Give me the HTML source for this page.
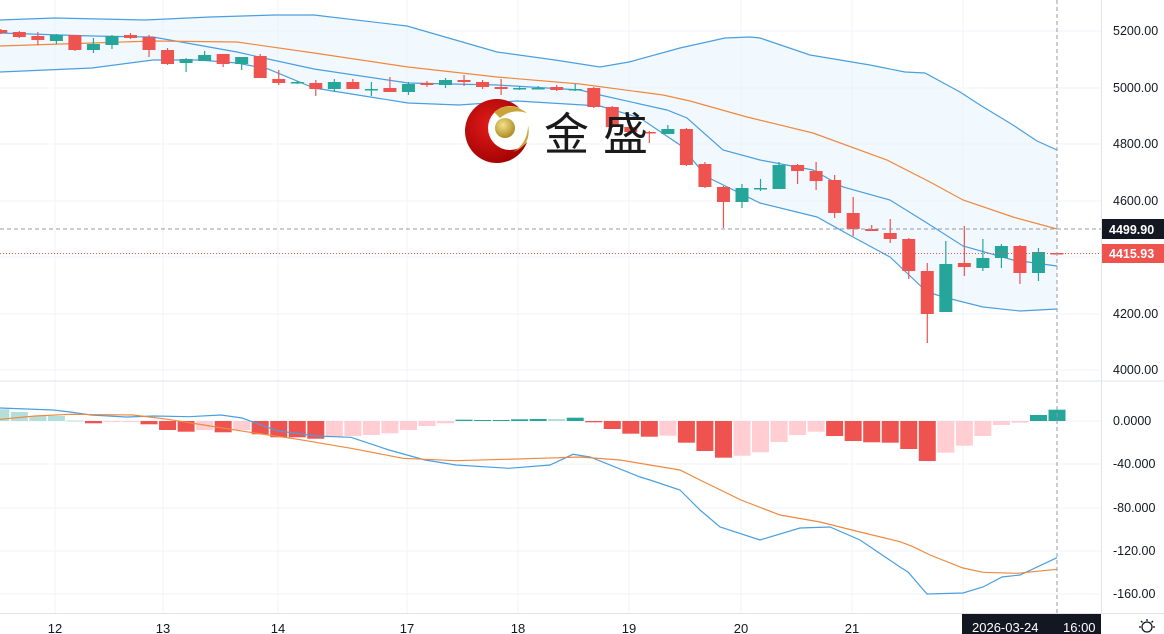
<!DOCTYPE html>
<html><head><meta charset="utf-8"><style>
html,body{margin:0;padding:0;background:#fff;width:1164px;height:634px;overflow:hidden}
svg{display:block}
text{font-family:"Liberation Sans","Noto Sans CJK SC",sans-serif}
</style></head><body>
<svg id="s" width="1164" height="634" xmlns="http://www.w3.org/2000/svg">
<g stroke="#f0f3fa" stroke-width="1">
<line x1="55" y1="0" x2="55" y2="613"/><line x1="163" y1="0" x2="163" y2="613"/><line x1="278" y1="0" x2="278" y2="613"/><line x1="407" y1="0" x2="407" y2="613"/><line x1="518" y1="0" x2="518" y2="613"/><line x1="629" y1="0" x2="629" y2="613"/><line x1="741" y1="0" x2="741" y2="613"/><line x1="852" y1="0" x2="852" y2="613"/><line x1="963" y1="0" x2="963" y2="613"/>
<line x1="0" y1="31" x2="1101" y2="31"/><line x1="0" y1="88" x2="1101" y2="88"/><line x1="0" y1="144" x2="1101" y2="144"/><line x1="0" y1="201" x2="1101" y2="201"/><line x1="0" y1="257" x2="1101" y2="257"/><line x1="0" y1="314" x2="1101" y2="314"/><line x1="0" y1="370" x2="1101" y2="370"/>
<line x1="0" y1="464" x2="1101" y2="464"/><line x1="0" y1="508" x2="1101" y2="508"/><line x1="0" y1="551" x2="1101" y2="551"/><line x1="0" y1="594" x2="1101" y2="594"/>
</g>
<path d="M0,20 L55,18 L145,20 L210,17 L275,15 L314,15 L407,26 L497,52 L555,60 L600,67 L629,62 L680,48 L725,38 L750,37 L760,38 L810,55 L870,65 L905,72 L925,73 L960,92 L980,105 L1013,125 L1037,141 L1057,150 L1057,309 L1020,311 L983,307 L947,298 L927,292 L890,257 L853,237 L817,217 L760,203 L707,177 L680,145 L640,118 L600,106 L517,101 L459,105 L408,103 L314,88 L268,69 L237,63 L199,60 L153,60 L92,68 L0,72 Z" fill="#e3f2fd" fill-opacity="0.45"/>
<g fill="none" stroke-width="1.2">
<path stroke="#4a9fe0" d="M0,20 L55,18 L145,20 L210,17 L275,15 L314,15 L407,26 L497,52 L555,60 L600,67 L629,62 L680,48 L725,38 L750,37 L760,38 L810,55 L870,65 L905,72 L925,73 L960,92 L980,105 L1013,125 L1037,141 L1057,150"/>
<path stroke="#4a9fe0" d="M0,72 L92,68 L153,60 L199,60 L237,63 L268,69 L314,88 L408,103 L459,105 L517,101 L600,106 L640,118 L680,145 L707,177 L760,203 L817,217 L853,237 L890,257 L927,292 L947,298 L983,307 L1020,311 L1057,309"/>
<path stroke="#4a9fe0" d="M0,33 L92,36 L153,37 L237,52 L268,59 L314,69 L408,83 L497,85 L580,90 L600,95 L667,110 L687,118 L723,150 L760,160 L813,170 L843,187 L890,200 L927,223 L963,246 L1013,260 L1057,266"/>
<path stroke="#f0883e" d="M0,46 L92,43 L153,41 L237,42 L314,53 L408,67 L497,77 L580,84 L663,95 L690,101 L747,117 L813,133 L887,160 L930,182 L963,200 L1013,217 L1057,229"/>
</g>
<g id="c"></g>
<line x1="0" y1="229" x2="1101" y2="229" stroke="#9598a1" stroke-dasharray="4,3"/>
<line x1="0" y1="253.5" x2="1101" y2="253.5" stroke="#ef5350" stroke-dasharray="1,2"/>
<!-- watermark -->
<defs><radialGradient id="rg" cx="0.4" cy="0.4" r="0.7"><stop offset="0" stop-color="#e31b1b"/><stop offset="1" stop-color="#9c0000"/></radialGradient>
<radialGradient id="gg" cx="0.4" cy="0.35" r="0.7"><stop offset="0" stop-color="#f3e08a"/><stop offset="1" stop-color="#a8871c"/></radialGradient></defs>
<circle cx="497" cy="131" r="32" fill="url(#rg)"/>
<circle cx="510" cy="128" r="22" fill="#fff"/>
<path d="M494,112 Q510,100 527,113 Q512,108 500,118 Z" fill="#c9a436"/>
<path d="M513,152 Q528,143 528,125 Q532,145 513,152 Z" fill="#c9a436"/>
<circle cx="505" cy="128" r="10" fill="url(#gg)"/>
<text x="544" y="150" font-size="45" fill="#1a1a1a">金</text>
<text x="603" y="150" font-size="45" fill="#1a1a1a">盛</text>
<line x1="0" y1="381" x2="1164" y2="381" stroke="#e0e3eb"/>
<line x1="0" y1="421" x2="1101" y2="421" stroke="#f0f3fa"/>
<g id="h"></g>
<g fill="none" stroke-width="1.2">
<path stroke="#4a9fe0" d="M0,408 L53,410 L70,412 L91,415 L126,417 L154,416 L189,416.7 L221,415 L242,418 L277,430.7 L316,436 L351,437.3 L389,450 L425,460 L456,465 L509,468.3 L550,465 L573,454.3 L590,457 L640,477 L650,480 L680,490 L700,510 L720,527 L760,540 L800,528 L830,527 L860,540 L900,567 L908,572 L927,594 L963,593 L983,587 L1002,577 L1020,575 L1057,557.7"/>
<path stroke="#f0883e" d="M0,419.3 L35,416 L70,414.3 L133,415 L168,419.3 L210,426 L246,431.7 L298,439.3 L351,448.3 L403,458.3 L456,460.7 L540,458.3 L580,457 L620,460 L680,470 L700,480 L741,500 L780,515 L820,522 L860,532 L900,541.7 L913,546.7 L930,555 L963,568 L983,572.3 L1017,573.3 L1057,569.3"/>
</g>
<line x1="1057" y1="0" x2="1057" y2="613" stroke="#9598a1" stroke-dasharray="4,3"/>
<line x1="1101.5" y1="0" x2="1101.5" y2="613" stroke="#e0e3eb"/>
<line x1="0" y1="613.5" x2="1164" y2="613.5" stroke="#e0e3eb"/>
<g font-size="12.5" fill="#131722">
<text x="1113" y="35">5200.00</text><text x="1113" y="92">5000.00</text><text x="1113" y="148">4800.00</text><text x="1113" y="205">4600.00</text><text x="1113" y="318">4200.00</text><text x="1113" y="374">4000.00</text>
<text x="1113" y="425">0.0000</text><text x="1113" y="468">-40.000</text><text x="1113" y="512">-80.000</text><text x="1113" y="555">-120.00</text><text x="1113" y="598">-160.00</text>
</g>
<rect x="1102" y="219" width="62" height="20" fill="#131722"/><text x="1109" y="234" font-size="12.5" fill="#fff" font-weight="bold">4499.90</text>
<rect x="1102" y="244" width="62" height="19" fill="#ef5350"/><text x="1109" y="258" font-size="12.5" fill="#fff" font-weight="bold">4415.93</text>
<g font-size="13" fill="#131722" text-anchor="middle">
<text x="55" y="633">12</text><text x="163" y="633">13</text><text x="278" y="633">14</text><text x="407" y="633">17</text><text x="518" y="633">18</text><text x="629" y="633">19</text><text x="741" y="633">20</text><text x="852" y="633">21</text>
</g>
<rect x="962" y="614" width="139" height="20" fill="#131722"/>
<text x="972" y="632" font-size="13" fill="#fff">2026-03-24</text><text x="1063" y="632" font-size="13" fill="#fff">16:00</text>
<circle cx="1147" cy="627" r="5" fill="none" stroke="#131722" stroke-width="1.3"/>
<g stroke="#131722" stroke-width="1.3"><line x1="1147" y1="619" x2="1147" y2="621"/><line x1="1139" y1="627" x2="1141" y2="627"/><line x1="1153" y1="627" x2="1155" y2="627"/><line x1="1141" y1="621" x2="1142.5" y2="622.5"/><line x1="1153" y1="621" x2="1151.5" y2="622.5"/></g>
</svg>
<script>
var C=[["r",30,33,29,34],["r",32,37,31,38],["r",36,40,32,45],["g",35,41,34,44],["r",35,50,35,51],["g",44,50,38,53],["g",36,45,35,49],["r",35,38,33,39],["r",37,50,35,57],["r",50,64,48,65],["g",59,63,58,72],["g",55,61,51,61],["r",54,64,54,67],["g",57,64,57,70],["r",56,78,54,78],["r",79,83,70,85],["g",82,83,81,84],["r",83,89,80,96],["g",82,89,79,92],["r",82,89,79,89],["g",89,89.5,82,96],["r",88,92,77,92],["g",84,92,82,95],["r",83,85,81,87],["g",80,85,78,88],["r",80,82,75,86],["r",82,87,80,89],["r",87,89,79,95],["g",88,89,86,90],["g",88,89,86,89],["r",87,90,85,91],["g",89,90,84,91],["r",88,107,87,108],["r",107,127,106,128],["r",127,132,125,133],["r",132,133,131,143],["g",129,134,125,134],["r",129,165,128,166],["r",164,187,162,188],["r",187,202,186,228],["g",188,202,184,208],["g",188,189,179,191],["g",165,189,162,189],["r",165,171,164,184],["r",171,181,162,190],["r",180,213,175,218],["r",213,229,197,236],["r",229,231,225,231],["r",233,239,219,243],["r",239,271,238,279],["r",271,314,263,343],["g",264,312,241,312],["r",263,267,226,276],["g",258,268,239,271],["g",246,258,244,268],["r",246,273,245,284],["g",252,273,248,281],["r",253,254.5,253,254.5]];
var H=[["lg",409.3],["lg",412],["lg",416],["lg",416],["lg",420.5],["r",423.3],["p",421.5],["p",421.5],["r",424.3],["r",430],["r",431.7],["p",430],["r",432.3],["p",430],["r",434.3],["r",437.3],["r",437.3],["r",438.7],["p",436.7],["p",436],["p",435],["p",433.3],["p",430],["p",426],["p",423.3],["g",419.7],["g",420],["g",420],["g",419.3],["g",419],["lg",419],["g",417.7],["r",422.3],["r",429],["r",433.7],["r",436.7],["p",435.7],["r",442.7],["r",451],["r",457.7],["p",455.7],["p",452.3],["p",442],["p",435],["p",431.7],["r",436],["r",441],["r",442.3],["r",442.7],["r",449],["r",461],["p",452.7],["p",445.7],["p",436],["p",425],["p",422.7],["g",415],["g",409.7]];
var col={r:"#ef5350",g:"#26a69a",lg:"#b2dfdb",p:"#ffcdd2"};
var s="",h="";
for(var i=0;i<C.length;i++){var d=C[i],x=1057-18.53*(57-i),c=col[d[0]];
s+='<line x1="'+x+'" y1="'+d[3]+'" x2="'+x+'" y2="'+d[4]+'" stroke="'+c+'" stroke-width="1.2"/>';
var t=Math.min(d[1],d[2]),b=Math.max(d[1],d[2]);if(b-t<1.5)b=t+1.5;
s+='<rect x="'+(x-6.5)+'" y="'+t+'" width="13" height="'+(b-t)+'" fill="'+c+'"/>';}
for(var i=0;i<H.length;i++){var d=H[i],x=1057-18.53*(57-i),c=col[d[0]],y=d[1],t=Math.min(y,421),b=Math.max(y,421);if(b-t<1)b=t+1;
h+='<rect x="'+(x-8.5)+'" y="'+t+'" width="17" height="'+(b-t)+'" fill="'+c+'"/>';}
document.getElementById("c").innerHTML=s;document.getElementById("h").innerHTML=h;
</script>
</body></html>
